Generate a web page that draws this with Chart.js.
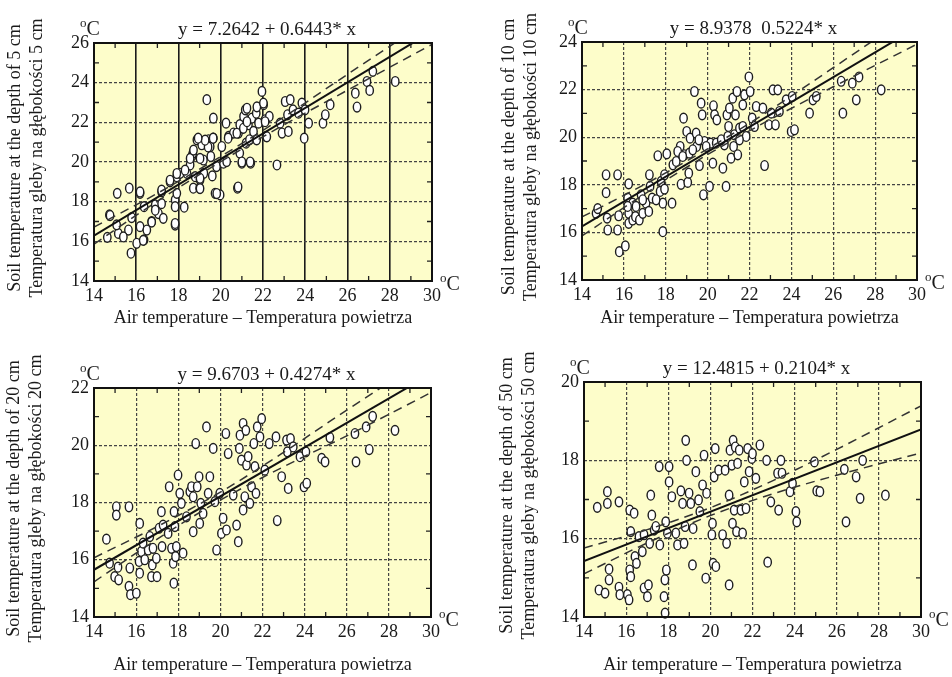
<!DOCTYPE html>
<html>
<head>
<meta charset="utf-8">
<script src="https://cdn.jsdelivr.net/npm/chart.js@4.4.0/dist/chart.umd.min.js"></script>
<style>
  body { margin: 0; background: #fff; }
  #page { position: relative; width: 952px; height: 677px; }
  #page canvas { position: absolute; }
</style>
</head>
<body>
<div id="page">
  <canvas id="c5" width="476" height="335" style="left:0;top:0"></canvas>
  <canvas id="c10" width="476" height="335" style="left:476px;top:0"></canvas>
  <canvas id="c20" width="476" height="342" style="left:0;top:335px"></canvas>
  <canvas id="c50" width="476" height="342" style="left:476px;top:335px"></canvas>
</div>
<script>
// air temperature (x) and soil temperature (y)
var air5 = [14.63,14.73,15.1,15.15,15.07,15.67,15.63,15.75,15.78,16.02,16.18,16.18,16.37,16.37,16.5,16.73,16.9,17.05,17.2,17.28,
  17.2,17.6,17.84,17.84,17.84,17.92,17.92,18.08,18.27,18.4,18.55,18.63,18.68,18.7,18.79,18.87,19.0,19.02,19.1,19.18,
  19.2,19.34,19.42,19.5,19.53,19.6,19.65,19.65,19.73,19.8,19.97,20.05,20.13,20.25,20.28,20.37,20.6,20.79,20.84,20.9,
  20.9,21.0,21.08,21.16,21.2,21.31,21.36,21.42,21.47,21.55,21.68,21.7,21.79,21.95,22.03,22.1,22.15,22.3,22.66,22.81,
  22.9,23.05,23.16,23.2,23.29,23.42,23.68,23.84,23.95,23.99,24.16,24.84,24.95,25.18,26.37,26.45,26.92,27.05,27.2,28.26,
  19.02,18.55,19.02,19.4,19.26,19.64,20.35,20.76,21.07,21.24,21.24,21.71,22.02,22.1,22.18,21.0,21.39,20.82,19.81,16.18,
  16.33,15.39,14.76,16.73,16.9,17.2,17.6,17.92,18.31,19.02,18.71,18.93,17.84];
var soil5 = [16.2,17.33,18.42,16.4,16.83,18.68,16.57,15.4,17.2,15.9,18.42,16.74,16.07,17.75,16.57,17.0,17.84,17.4,18.5,17.16,
  17.9,19.0,16.82,18.09,17.75,19.26,18.42,19.43,17.72,19.43,19.85,20.28,20.45,18.68,19.26,21.12,18.68,19.1,20.87,20.1,
  19.43,23.14,21.12,20.78,20.28,19.3,22.21,21.2,18.42,19.77,18.34,20.78,19.94,21.96,20.02,21.29,21.46,18.68,21.46,21.88,
  20.45,19.94,22.3,22.63,20.95,21.88,21.12,19.94,22.21,21.54,22.46,21.12,21.96,23.56,22.89,22.13,21.29,22.3,19.85,21.96,
  21.46,23.05,22.38,21.54,23.14,22.63,22.46,22.97,21.2,22.63,21.96,21.96,22.38,22.89,23.47,22.77,24.06,23.61,24.57,24.06,
  18.66,20.18,20.18,20.76,21.1,21.2,21.2,21.45,21.7,22.03,22.71,22.78,22.97,22.03,21.27,20.0,20.0,18.74,18.41,18.49,
  16.05,16.22,17.3,16.97,17.57,18.58,19.08,19.42,19.59,19.18,20.6,21.2,16.9];

var air10 = [14.67,14.75,15.15,15.15,15.2,15.23,15.7,15.75,15.7,15.78,16.07,16.23,16.18,16.23,16.23,16.42,16.42,16.55,16.74,16.82,
  16.9,17.06,17.19,17.22,17.25,17.35,17.62,17.73,17.78,17.86,17.86,17.94,17.94,18.05,18.3,18.34,18.5,18.69,18.73,18.85,
  18.89,19.0,19.05,19.1,19.16,19.13,19.37,19.45,19.48,19.61,19.69,19.74,19.8,19.85,20.09,20.14,20.25,20.28,20.33,20.44,
  20.73,20.8,20.88,20.92,21.0,21.04,21.12,21.2,21.24,21.28,21.33,21.4,21.44,21.52,21.68,21.76,21.84,21.97,22.03,22.13,
  22.24,22.32,22.64,22.72,22.92,23.04,23.12,23.24,23.35,23.43,23.75,23.99,24.04,24.15,24.87,25.03,25.19,26.38,26.46,26.91,
  27.1,27.23,28.29,
  18.57,18.81,19.29,19.58,19.93,20.41,20.65,20.96,21.52,21.68,16.58,16.9,17.54,16.18];
var soil10 = [16.8,17.0,18.42,17.67,16.6,16.1,18.42,16.7,16.1,15.19,15.43,18.04,17.44,16.8,16.38,17.23,16.52,16.66,16.52,17.58,
  16.8,17.23,16.88,18.42,17.93,17.44,19.22,17.72,18.14,16.03,17.23,18.42,17.82,19.3,17.23,18.84,18.98,19.61,18.02,20.8,
  19.26,20.24,18.1,18.49,19.96,19.33,21.92,20.17,19.61,18.81,21.43,20.94,17.58,19.82,17.93,19.75,18.91,21.32,20.94,20.73,
  18.7,19.68,17.93,20.94,20.45,21.22,19.12,21.64,19.61,20.1,20.94,21.92,19.26,20.38,21.36,21.78,20.03,22.53,21.92,20.8,
  20.45,21.29,21.22,18.81,20.52,21.01,21.99,20.52,21.99,21.08,21.57,20.24,21.71,20.31,21.01,21.57,21.71,22.35,21.01,22.27,
  21.57,22.53,21.99,
  19.4,19.19,19.47,19.89,19.61,19.75,19.89,20.03,19.89,20.45,17.09,17.37,17.37,17.09];

var air20 = [14.59,14.74,14.98,15.06,15.06,15.14,15.17,15.66,15.66,15.7,15.73,16.01,16.17,16.17,16.14,16.25,16.33,16.41,16.57,16.65,
  16.73,16.77,16.8,16.96,16.99,17.09,17.2,17.23,17.28,17.52,17.57,17.68,17.76,17.79,17.8,17.84,17.87,17.91,17.99,18.07,
  18.15,18.23,18.39,18.55,18.63,18.71,18.71,18.83,18.9,18.99,19.02,19.07,19.18,19.34,19.42,19.5,19.66,19.74,19.82,19.97,
  20.05,20.13,20.26,20.29,20.37,20.61,20.77,20.85,20.9,20.93,21.0,21.08,21.08,21.16,21.21,21.24,21.32,21.4,21.48,21.59,
  21.64,21.69,21.75,21.88,21.96,22.11,22.32,22.64,22.7,22.91,23.14,23.18,23.22,23.33,23.46,23.78,23.97,24.06,24.1,24.81,
  24.97,25.2,26.39,26.44,26.92,27.07,27.23,28.29];
var soil20 = [16.72,15.88,15.41,17.85,17.56,15.74,15.3,17.85,15.07,15.71,14.78,14.83,17.27,15.53,15.94,16.29,16.58,16.0,16.34,16.81,
  15.41,15.82,16.4,16.05,15.41,17.1,17.68,16.46,17.21,16.92,18.55,16.4,15.88,15.18,17.68,17.16,16.11,16.46,18.96,18.32,
  17.97,16.23,17.5,18.38,18.55,16.98,18.2,20.06,18.55,18.9,17.27,17.97,17.62,20.64,18.32,18.9,19.89,18.03,16.34,18.32,
  16.92,17.45,20.41,17.04,19.71,18.26,17.21,16.63,19.89,20.35,19.48,20.76,17.74,18.2,20.52,19.31,19.6,17.97,18.55,20.06,
  19.25,18.32,20.64,20.29,20.93,19.13,20.06,20.29,17.37,18.9,20.18,19.77,18.49,20.23,19.94,19.6,18.55,19.77,18.67,19.54,
  19.42,20.27,20.41,19.42,20.64,19.85,21.01,20.52];

var air50 = [14.63,14.71,15.0,15.11,15.11,15.19,15.19,15.66,15.66,15.7,16.06,16.14,16.17,16.17,16.22,16.22,16.38,16.42,16.49,16.61,
  16.77,16.85,16.85,17.01,17.06,17.12,17.17,17.22,17.33,17.41,17.57,17.6,17.8,17.84,17.85,17.88,17.91,17.96,18.04,18.04,
  18.17,18.36,18.44,18.6,18.68,18.75,18.8,18.83,18.87,18.99,19.07,19.15,19.18,19.31,19.44,19.5,19.63,19.7,19.78,19.82,
  20.07,20.1,20.13,20.18,20.23,20.26,20.39,20.58,20.7,20.77,20.89,20.89,20.93,21.02,21.05,21.08,21.13,21.18,21.24,21.29,
  21.37,21.45,21.53,21.61,21.69,21.77,21.84,21.97,22.0,22.16,22.35,22.67,22.72,22.87,23.19,23.24,23.35,23.4,23.78,23.9,
  24.06,24.1,24.94,25.05,25.2,26.36,26.44,26.92,27.11,27.23,28.31];
var soil50 = [16.8,14.69,14.61,17.2,16.9,15.22,14.95,16.94,14.76,14.57,14.57,14.44,16.73,15.2,15.03,16.18,16.65,15.54,15.37,16.05,
  15.67,16.1,14.74,14.52,14.82,15.88,17.11,16.6,16.22,16.31,17.84,15.84,14.52,14.95,14.1,16.43,15.2,16.14,17.84,17.45,
  17.07,16.14,15.84,17.22,16.9,15.88,16.31,18.51,18.0,17.16,16.9,15.33,16.26,17.71,16.99,16.69,17.37,18.13,14.99,17.16,
  16.1,16.39,15.37,17.58,18.3,15.29,17.75,16.1,17.75,15.88,14.82,17.11,18.26,17.88,16.39,18.51,16.73,18.34,16.18,17.92,
  18.26,16.73,16.14,17.45,16.77,18.3,17.71,18.05,18.17,17.54,18.39,18.0,15.4,16.94,17.67,16.73,18.0,17.67,17.2,17.41,
  16.69,16.43,17.96,17.22,17.2,17.77,16.43,17.58,17.03,18.0,17.11];

// regression line and 95% band, read at these x positions
var bandX = [14, 17, 20, 23, 26, 30];
var fitX = [14, 30];
var fit5 = [16.29, 26.59];
var up5 = [16.72, 18.42, 20.28, 22.28, 24.42, 27.25];
var lo5 = [15.86, 18.02, 20.02, 21.88, 23.62, 25.93];
var fit10 = [16.25, 24.61];
var up10 = [16.65, 18.02, 19.51, 21.15, 22.92, 25.31];
var lo10 = [15.85, 17.62, 19.27, 20.75, 22.12, 23.91];
var fit20 = [15.65, 22.49];
var up20 = [16.07, 17.16, 18.36, 19.75, 21.23, 23.14];
var lo20 = [15.23, 16.72, 18.08, 19.25, 20.33, 21.84];
var fit50 = [15.43, 18.79];
var up50 = [15.76, 16.23, 16.79, 17.49, 18.28, 19.39];
var lo50 = [15.1, 15.89, 16.59, 17.15, 17.62, 18.19];

var xLabel = 'Air temperature \u2013 Temperatura powietrza';

var FONT = '"Liberation Serif", "Times New Roman", serif';
var INK = '#1a1a1a';

function pts(xs, ys) {
  return xs.map(function(x, i) { return {x: x, y: ys[i]}; });
}

function degC(ctx, x, y) {
  ctx.textAlign = 'left';
  ctx.textBaseline = 'alphabetic';
  ctx.font = '13px ' + FONT;
  ctx.fillText('o', x, y - 8);
  var w = ctx.measureText('o').width;
  ctx.font = '20px ' + FONT;
  ctx.fillText('C', x + w, y);
}

var decor = {
  id: 'decor',
  beforeDraw: function(chart) {
    var a = chart.chartArea, ctx = chart.ctx;
    ctx.save();
    ctx.fillStyle = '#fdfdca';
    ctx.fillRect(a.left, a.top, a.right - a.left, a.bottom - a.top);
    ctx.restore();
  },
  // open elliptic markers at the positions the scatter dataset got from the scales
  afterDatasetDraw: function(chart, args) {
    if (args.index !== 3) return;
    var ctx = chart.ctx;
    ctx.save();
    ctx.fillStyle = '#fff';
    ctx.strokeStyle = '#1e1e1e';
    ctx.lineWidth = 1.4;
    args.meta.data.forEach(function(el) {
      ctx.beginPath();
      ctx.ellipse(el.x, el.y, 3.7, 4.9, 0, 0, Math.PI * 2);
      ctx.fill();
      ctx.stroke();
    });
    ctx.restore();
  },
  afterDraw: function(chart, args, o) {
    var ctx = chart.ctx, a = chart.chartArea;
    var xs = chart.scales.x, ys = chart.scales.y;
    ctx.save();
    // minor ticks on all four sides
    ctx.strokeStyle = '#222';
    ctx.lineWidth = 1.3;
    ctx.beginPath();
    for (var v = xs.min + 1; v < xs.max; v += 2) {
      var px = xs.getPixelForValue(v);
      ctx.moveTo(px, a.bottom); ctx.lineTo(px, a.bottom - 5);
      ctx.moveTo(px, a.top); ctx.lineTo(px, a.top + 5);
    }
    for (var w = ys.min + 1; w < ys.max; w += 2) {
      var py = ys.getPixelForValue(w);
      ctx.moveTo(a.left, py); ctx.lineTo(a.left + 5, py);
      ctx.moveTo(a.right, py); ctx.lineTo(a.right - 5, py);
    }
    ctx.stroke();
    ctx.lineWidth = 2;
    ctx.strokeStyle = '#111';
    ctx.strokeRect(a.left, a.top, a.right - a.left, a.bottom - a.top);

    ctx.fillStyle = INK;
    ctx.font = '19px ' + FONT;
    ctx.textAlign = 'center';
    ctx.textBaseline = 'alphabetic';
    ctx.fillText(o.equation, (a.left + a.right) / 2 + 4, a.top - 8);
    degC(ctx, a.left - 14, a.top - 8);
    degC(ctx, a.right + 8, a.bottom + 9);

    // two-line y axis title
    ctx.font = '18px ' + FONT;
    ctx.textAlign = 'center';
    ctx.textBaseline = 'middle';
    ctx.translate(o.yTitleX, (a.top + a.bottom) / 2 - 4);
    ctx.rotate(-Math.PI / 2);
    ctx.fillText(o.yTitle[0], 0, 0);
    ctx.fillText(o.yTitle[1], 0, 22);
    ctx.restore();
  }
};

function panel(id, p) {
  var tickFont = {family: FONT, size: 18};
  new Chart(document.getElementById(id), {
    type: 'scatter',
    data: {
      datasets: [
        {data: pts(fitX, p.fit), showLine: true, borderColor: '#111', borderWidth: 2, pointRadius: 0},
        {data: pts(bandX, p.up), showLine: true, borderColor: '#333', borderWidth: 1.5, borderDash: [9, 6],
          pointRadius: 0, cubicInterpolationMode: 'monotone'},
        {data: pts(bandX, p.lo), showLine: true, borderColor: '#333', borderWidth: 1.5, borderDash: [9, 6],
          pointRadius: 0, cubicInterpolationMode: 'monotone'},
        {data: pts(p.x, p.y), pointRadius: 0, pointHoverRadius: 0}
      ]
    },
    options: {
      responsive: false,
      animation: false,
      events: [],
      layout: {padding: {top: p.area[1], right: 476 - p.area[2], left: 0, bottom: 0}},
      plugins: {
        legend: {display: false},
        tooltip: {enabled: false},
        decor: {equation: p.equation, yTitle: p.yTitle, yTitleX: p.yTitleX}
      },
      scales: {
        x: {
          type: 'linear', min: 14, max: 30,
          ticks: {stepSize: 2, autoSkip: false, maxRotation: 0, font: tickFont, color: INK, padding: 4},
          grid: {drawTicks: false, color: p.xSolid ? '#1a1a1a' : '#444', lineWidth: p.xSolid ? 1.6 : 1.2},
          border: {display: false, dash: p.xSolid ? [] : [3, 2]},
          title: {display: true, text: xLabel, color: INK, font: {family: FONT, size: 18, lineHeight: 22 / 18},
            padding: {top: 0, bottom: p.xTitlePad}},
          afterFit: function(s) { s.height = p.h - p.area[3]; }
        },
        y: {
          type: 'linear', min: 14, max: p.yMax,
          ticks: {stepSize: 2, autoSkip: false, font: tickFont, color: INK, padding: 5},
          grid: {drawTicks: false, color: '#444', lineWidth: 1.2},
          border: {display: false, dash: [3, 2]},
          afterFit: function(s) { s.width = p.area[0]; }
        }
      }
    },
    plugins: [decor]
  });
}

// area = [left, top, right, bottom] of the plot inside each canvas
panel('c5', {x: air5, y: soil5, fit: fit5, up: up5, lo: lo5, yMax: 26, xSolid: true,
  equation: 'y = 7.2642 + 0.6443* x',
  yTitle: ['Soil temperature at the depth of 5 cm', 'Temperatura gleby na g\u0142\u0119boko\u015bci 5 cm'],
  yTitleX: 15, h: 335, area: [94, 43, 432, 281], xTitlePad: 6});
panel('c10', {x: air10, y: soil10, fit: fit10, up: up10, lo: lo10, yMax: 24, xSolid: false,
  equation: 'y = 8.9378  0.5224* x',
  yTitle: ['Soil temperature at the depth of 10 cm', 'Temperatura gleby na g\u0142\u0119boko\u015bci 10 cm'],
  yTitleX: 33, h: 335, area: [106, 42, 441, 280], xTitlePad: 6});
panel('c20', {x: air20, y: soil20, fit: fit20, up: up20, lo: lo20, yMax: 22, xSolid: false,
  equation: 'y = 9.6703 + 0.4274* x',
  yTitle: ['Soil temperature at the depth of 20 cm', 'Temperatura gleby na g\u0142\u0119boko\u015bci 20 cm'],
  yTitleX: 14, h: 342, area: [94, 53, 431, 282], xTitlePad: 1});
panel('c50', {x: air50, y: soil50, fit: fit50, up: up50, lo: lo50, yMax: 20, xSolid: false,
  equation: 'y = 12.4815 + 0.2104* x',
  yTitle: ['Soil temperature at the depth of 50 cm', 'Temperatura gleby na g\u0142\u0119boko\u015bci 50 cm'],
  yTitleX: 31, h: 342, area: [108, 47, 445, 282], xTitlePad: 1});
</script>
</body>
</html>
